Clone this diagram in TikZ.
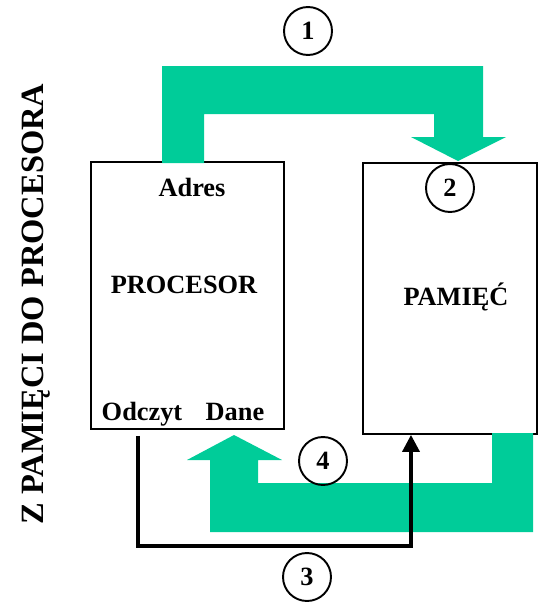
\documentclass[tikz,border=0pt]{standalone}
\usepackage{fontspec}
\setmainfont{Liberation Serif}
\usetikzlibrary{arrows.meta}
\definecolor{busgreen}{RGB}{0,204,153}

\begin{document}
\begin{tikzpicture}[x=0.02cm, y=-0.02cm,
  lbl/.style={font=\fontsize{15}{17}\selectfont\bfseries},
  unit/.style={draw, line width=1.1pt, anchor=north west, inner sep=0pt},
  stepnum/.style={draw, circle, line width=1.1pt, minimum size=0.96cm, inner sep=0pt, font=\fontsize{15}{17}\selectfont\bfseries},
  bus/.style={fill=busgreen}]
% geometry in pixels of a 538 x 605 frame, y running down
\useasboundingbox (0,0) rectangle (538,605);

% ---- the two units ----
\node[unit, minimum width=3.86cm, minimum height=5.34cm] (proc) at (90,161) {};
\node[unit, minimum width=3.48cm, minimum height=5.42cm] (mem) at (362,162) {};

% ---- address bus: processor -> memory ----
\fill[bus] (162,163) -- (162,66) -- (483,66) -- (483,137) -- (506,137) -- (458,161)
  -- (411,137) -- (434,137) -- (434,114) -- (204,114) -- (204,163) -- cycle;
% ---- data bus: memory -> processor ----
\fill[bus] (492,433) -- (533,433) -- (533,532) -- (210,532) -- (210,460) -- (187,460)
  -- (234,435) -- (282,460) -- (258,460) -- (258,483) -- (492,483) -- cycle;

% ---- read line ----
\draw[line width=2pt, -{Triangle[length=0.34cm,width=0.34cm]}]
  ([xshift=0.96cm,yshift=-0.12cm]proc.south west) |- (250,546) -| ([xshift=0.98cm]mem.south west);

% ---- labels ----
\node[lbl, anchor=base] (adres) at (192,196) {Adres};
\node[lbl, anchor=base] (proclbl) at (184,293) {PROCESOR};
\node[lbl, anchor=base] (memlbl) at (456,305) {PAMIĘĆ};
\node[lbl, anchor=base] (odczyt) at (142,420) {Odczyt};
\node[lbl, anchor=base] (dane) at (235,420) {Dane};
\node[font=\fontsize{18.5}{21}\selectfont\bfseries, rotate=90] (title) at (36,304) {Z PAMIĘCI DO PROCESORA};

% ---- step numbers ----
\foreach \n/\x/\y in {1/308/31, 2/450/188, 3/307/577, 4/323/461}{
  \node[stepnum] (s\n) at (\x,\y) {\n};
}
\end{tikzpicture}
\end{document}
